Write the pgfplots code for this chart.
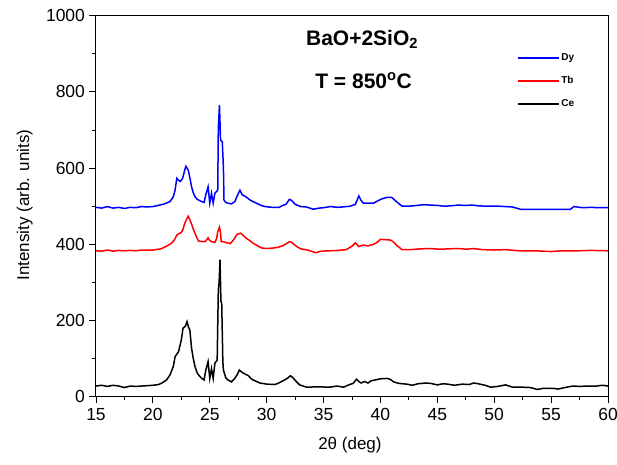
\documentclass[border=0pt]{standalone}
\usepackage{fontspec}
\setmainfont{Liberation Sans}
\usepackage{pgfplots}
\pgfplotsset{compat=1.18}
\begin{document}
\begin{tikzpicture}[x=1pt,y=1pt]
\useasboundingbox (-96,-67.3) rectangle (521,396.7);
\begin{axis}[
  at={(0,0)}, anchor=south west,
  scale only axis, width=512pt, height=381pt,
  xmin=15, xmax=60, ymin=0, ymax=1000,
  xtick={15,20,...,60}, ytick={0,200,...,1000},
  minor tick num=1,
  tick align=outside, tick pos=left,
  major tick length=6.5pt, minor tick length=3.5pt,
  every tick/.style={black, line width=0.9pt},
  axis line style={line width=1pt},
  /pgf/number format/assume math mode=true,
  /pgf/number format/1000 sep={},
  tick label style={font=\fontsize{17.5}{19}\selectfont},
  xticklabel style={yshift=-2pt},
  yticklabel style={xshift=-1pt},
  every axis y label/.style={at={(axis description cs:-0.139,0.503)}, rotate=90, anchor=center},
  every axis x label/.style={at={(axis description cs:0.496,-0.127)}, anchor=center},
  label style={font=\fontsize{17}{19}\selectfont},
  xlabel={2θ (deg)},
  ylabel={Intensity (arb. units)},
  legend style={draw=none, fill=none, at={(rel axis cs:0.823,0.904)}, anchor=north west,
    font=\fontsize{10}{11}\selectfont\bfseries, row sep=12.5pt, inner sep=0pt,
    nodes={inner sep=1pt}},
  legend cell align=left,
  legend image code/.code={\draw[#1, line width=1.7pt] (0pt,0pt) -- (41pt,0pt);},
  clip=true,
]
\addplot[blue, line width=1.5pt] coordinates {
(15,497) (15.5,495) (16,499) (16.5,495) (17,497) (17.5,494) (18,497) (18.5,496) (19,499) (19.5,498) (20,499) (20.6,503) (21.0,506) (21.5,512) (21.8,525) (21.95,542) (22.1,573) (22.25,568) (22.4,565) (22.55,570) (22.65,577) (22.8,595) (22.9,605) (23.1,595) (23.25,575) (23.4,551) (23.55,535) (23.7,525) (23.9,518) (24.1,515) (24.3,512) (24.5,510) (24.65,530) (24.85,551) (25.0,508) (25.15,534) (25.3,508) (25.45,534) (25.7,542) (25.75,704) (25.85,765) (25.95,673) (26.1,669) (26.2,600) (26.25,516) (26.4,510) (26.6,508) (26.9,506) (27.2,512) (27.45,530) (27.65,542) (27.85,530) (28.1,526) (28.3,522) (28.5,517) (28.8,512) (29.1,508) (29.5,502) (29.85,499) (30.5,497) (31.1,497) (31.4,502) (31.7,505) (32.0,518) (32.2,515) (32.5,505) (33,499) (33.5,498) (34.1,492) (34.6,495) (35,496) (35.6,499) (36.3,497) (37.0,499) (37.35,500) (37.8,505) (38.1,527) (38.3,515) (38.5,508) (39.0,508) (39.4,508) (39.7,513) (40.1,519) (40.55,523) (41.0,523) (41.4,512) (41.9,500) (42.5,500) (43.2,502) (43.8,504) (44.4,503) (45.0,502) (45.6,500) (46.2,501) (46.8,503) (47.5,502) (48.1,503) (48.6,501) (49.3,500) (50.4,500) (51.0,499) (51.6,498) (52.3,492) (53.5,492) (54.5,492) (55.5,492) (56.7,492) (57.0,499) (57.8,496) (58.5,497) (59.2,496) (60,496)
};
\addlegendentry{Dy}
\addplot[red, line width=1.5pt] coordinates {
(15,383) (15.5,382) (16,385) (16.5,382) (17,384) (17.5,383) (18,384) (18.5,383) (19,385) (19.5,385) (20,385) (20.7,388) (21.2,395) (21.65,403) (21.9,412) (22.1,424) (22.3,428) (22.5,431) (22.65,440) (22.8,455) (22.95,465) (23.1,474) (23.25,465) (23.4,453) (23.55,440) (23.7,429) (23.85,418) (24.0,409) (24.3,407) (24.6,407) (24.85,417) (25.0,410) (25.15,407) (25.45,405) (25.6,415) (25.7,433) (25.85,445) (25.95,430) (26.0,407) (26.2,407) (26.5,404) (26.8,402) (27.1,412) (27.4,426) (27.7,429) (27.95,423) (28.2,416) (28.5,410) (28.8,403) (29.2,396) (29.6,390) (30.0,389) (30.5,390) (31.0,392) (31.4,396) (31.7,401) (32.0,407) (32.2,405) (32.6,395) (33.0,388) (33.6,385) (34.3,378) (34.8,382) (35.6,383) (36.3,384) (37.0,386) (37.5,395) (37.8,404) (38.1,394) (38.5,398) (38.9,396) (39.4,400) (39.7,405) (40.0,413) (40.5,412) (40.9,411) (41.2,405) (41.4,398) (41.9,386) (42.6,386) (43.5,388) (44.4,389) (45.2,387) (46.0,388) (46.8,389) (47.6,387) (48.1,389) (49.0,386) (50.0,385) (51.0,386) (52.2,383) (53.5,383) (55,381) (56,383) (57.5,383) (58.5,384) (60,383)
};
\addlegendentry{Tb}
\addplot[black, line width=1.5pt] coordinates {
(15,28) (15.5,30) (16,27) (16.5,30) (17,28) (17.5,24) (18,28) (18.5,27) (19,28) (19.5,29) (20,30) (20.5,32) (20.8,36) (21.2,44) (21.5,57) (21.8,80) (21.95,105) (22.25,118) (22.5,149) (22.65,180) (22.85,185) (23.0,197) (23.1,185) (23.25,175) (23.4,127) (23.55,100) (23.7,79) (23.9,62) (24.1,54) (24.3,48) (24.5,44) (24.65,70) (24.85,92) (25.0,48) (25.15,74) (25.3,48) (25.45,88) (25.65,96) (25.75,280) (25.82,300) (25.9,360) (25.98,250) (26.05,245) (26.15,90) (26.2,70) (26.4,50) (26.6,44) (26.9,39) (27.2,48) (27.45,60) (27.6,70) (27.8,65) (27.95,62) (28.2,58) (28.4,55) (28.6,48) (28.8,44) (29.1,40) (29.4,36) (30,33) (30.7,32) (31.0,35) (31.45,42) (31.8,48) (32.1,55) (32.3,50) (32.6,40) (32.9,31) (33.5,25) (34.5,26) (35.5,25) (36.2,28) (36.75,25) (37.3,32) (37.6,35) (37.9,46) (38.1,40) (38.3,36) (38.6,40) (38.9,36) (39.2,42) (39.55,44) (40.0,47) (40.6,48) (40.9,45) (41.15,39) (41.6,35) (42.3,33) (42.8,30) (43.3,34) (44.0,36) (44.4,35) (45.0,31) (45.5,34) (45.9,33) (46.5,30) (47.2,33) (47.8,32) (48.2,36) (48.6,34) (49.2,30) (49.7,25) (50.3,27) (51.0,31) (51.3,28) (51.6,25) (52.5,25) (53.2,24) (53.8,19) (54.3,22) (55.2,22) (55.6,20) (56.2,24) (56.9,28) (57.5,27) (58.2,28) (59,28) (59.5,30) (60,28)
};
\addlegendentry{Ce}
\node[anchor=base west, inner sep=0pt, font=\fontsize{21}{23}\selectfont\bfseries] at (axis description cs:0.41,0.923) {BaO+2SiO\textsubscript{2}};
\node[anchor=base west, inner sep=0pt, font=\fontsize{21}{23}\selectfont\bfseries] at (axis description cs:0.428,0.81) {T = 850\textsuperscript{o}C};
\end{axis}
\end{tikzpicture}
\end{document}
